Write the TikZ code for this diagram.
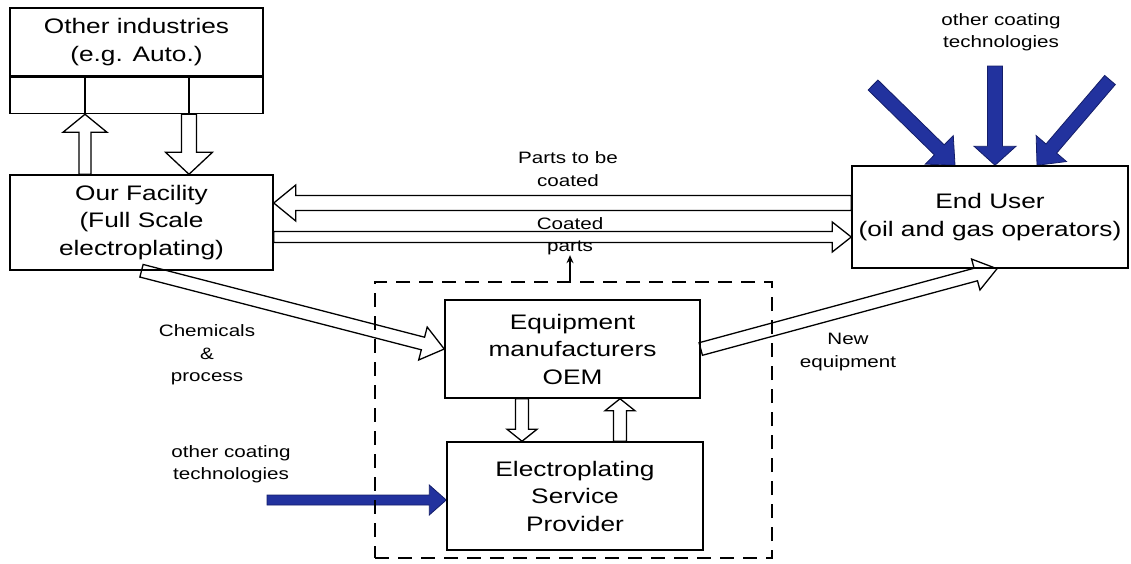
\documentclass[tikz,border=0pt]{standalone}
\usepackage{fontspec}
\setmainfont[FakeStretch=1.25]{Liberation Sans}
\usetikzlibrary{calc,arrows.meta}

\pgfdeclarelayer{background}
\pgfsetlayers{background,main}

\definecolor{techblue}{RGB}{34,50,158}
\definecolor{techedge}{RGB}{20,30,105}

\newcommand{\bigtxt}{\fontsize{21}{27.5}\selectfont}
\newcommand{\smalltxt}{\fontsize{16.5}{22.5}\selectfont}

% block arrow: [style]{from}{tip}{half shaft}{half head}{head length}
\newcommand{\blockarrow}[6][]{%
  \coordinate (ba) at ($(#3)!#6!(#2)$);
  \draw[#1] ($(#2)!#4!90:(#3)$) -- ($(ba)!#4!90:(#3)$) -- ($(ba)!#5!90:(#3)$)
    -- (#3) -- ($(ba)!#5!-90:(#3)$) -- ($(ba)!#4!-90:(#3)$)
    -- ($(#2)!#4!-90:(#3)$) -- cycle;}

\tikzset{
  box/.style={draw, line width=1.5pt, inner sep=0pt, align=center, font=\bigtxt},
  lbl/.style={align=center, font=\smalltxt, inner sep=0pt},
  hollow/.style={draw=black, fill=white, line width=1.3pt, line join=miter},
  techarrow/.style={draw=techedge, fill=techblue, line width=0.8pt, line join=miter}
}

\begin{document}
\begin{tikzpicture}[x=1pt, y=-1pt, >=Stealth]
  \useasboundingbox (0,0) rectangle (1131,563);

  %=====================================================================
  % blocks
  %=====================================================================
  \node[box, minimum width=253pt, minimum height=68pt] (ind) at (136.5,42)
    {Other industries\\(e.g. Auto.)};
  \node[box, minimum width=253pt, minimum height=36pt, anchor=north] (indbar)
    at (ind.south) {};
  \node[box, minimum width=263pt, minimum height=95pt] (fac) at (141.5,222.5)
    {Our Facility\\(Full Scale\\electroplating)};
  \node[box, minimum width=276pt, minimum height=102pt] (user) at (990,217)
    {End User\\(oil and gas operators)};
  \node[box, minimum width=255pt, minimum height=98pt] (oem) at (572.5,349)
    {Equipment\\manufacturers\\OEM};
  \node[box, minimum width=256pt, minimum height=108pt] (esp) at (575,496)
    {Electroplating\\Service\\Provider};
  % dashed group round OEM and service provider
  \node[draw, dash pattern=on 14pt off 9pt, line width=1.6pt,
    minimum width=397pt, minimum height=276pt] (grp) at (573.5,420) {};

  % columns under the industries block
  \coordinate (upx) at (85,0);
  \coordinate (dnx) at (189,0);
  \draw[line width=1.5pt] (indbar.north -| upx) -- (indbar.south -| upx);
  \draw[line width=1.5pt] (indbar.north -| dnx) -- (indbar.south -| dnx);

  %=====================================================================
  % labels
  %=====================================================================
  \node[lbl] (tocl) at (568,169) {Parts to be\\coated};
  \node[lbl] (frcl) at (570,236) {Coated\\parts};
  \node[lbl] (chem) at (207,355) {Chemicals\\\&\\process};
  \node[lbl] (neql) at (848,352) {New\\equipment};
  \node[lbl] (othl) at (231,464) {other coating\\technologies};
  \node[lbl] (othr) at (1001,32) {other coating\\technologies};

  \draw[-{Stealth[length=8pt,width=7pt]}, line width=1.5pt]
    (grp.north -| frcl) -- (frcl.south);

  %=====================================================================
  % flows
  %=====================================================================
  \begin{pgfonlayer}{background}
    % facility <-> other industries
    \blockarrow[hollow]{fac.north -| upx}{indbar.south -| upx}{6pt}{22pt}{18pt}
    \blockarrow[hollow]{indbar.south -| dnx}{fac.north -| dnx}{7.5pt}{23.5pt}{22pt}

    % parts to be coated / coated parts
    \coordinate (toc) at (0,203);
    \coordinate (frc) at (0,237);
    \blockarrow[hollow]{user.west |- toc}{fac.east |- toc}{7.5pt}{18pt}{22pt}
    \blockarrow[hollow]{fac.east |- frc}{user.west |- frc}{5.5pt}{15pt}{19pt}

    % chemicals and new equipment
    \coordinate (neweq) at ($(user.south)+(7,0)$);
    \blockarrow[hollow]{fac.south}{oem.west}{6.5pt}{17pt}{22pt}
    \blockarrow[hollow]{oem.east}{neweq}{6.5pt}{16pt}{22pt}

    % OEM <-> service provider
    \coordinate (dny) at (522,0);
    \coordinate (upy) at (620,0);
    \blockarrow[hollow]{oem.south -| dny}{esp.north -| dny}{6.5pt}{15pt}{12pt}
    \blockarrow[hollow]{esp.north -| upy}{oem.south -| upy}{6.5pt}{15pt}{12pt}

    % competing technologies
    \coordinate (ct1) at (873,85);
    \coordinate (ct2) at (995,66);
    \coordinate (ct3) at (1110,80);
    \coordinate (ct4) at (267,500);
    \blockarrow[techarrow]{ct1}{$(user.north)+(-35,0)$}{7pt}{20pt}{22pt}
    \blockarrow[techarrow]{ct2}{$(user.north)+(5,0)$}{7.5pt}{21pt}{19pt}
    \blockarrow[techarrow]{ct3}{$(user.north)+(47,0)$}{7pt}{20pt}{22pt}
    \blockarrow[techarrow]{ct4}{esp.west |- ct4}{5pt}{15pt}{17pt}
  \end{pgfonlayer}

\end{tikzpicture}
\end{document}
